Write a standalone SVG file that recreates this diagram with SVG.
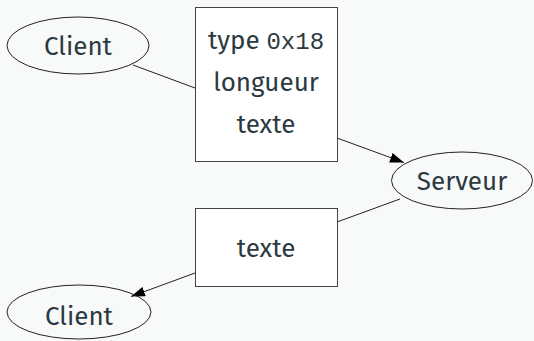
<svg xmlns="http://www.w3.org/2000/svg" width="534" height="341" viewBox="0 0 534 341">
<style>
.n ellipse{fill:none;stroke:#222;stroke-width:1}
.n rect{fill:#fff;stroke:#444;stroke-width:1}
text{font-family:"Fira Sans","Open Sans","Noto Sans",sans-serif;font-size:26px;fill:#2b3a40;text-anchor:middle}
.mono{font-family:"Liberation Mono","DejaVu Sans Mono",monospace;font-size:24px}
.e line{stroke:#222;stroke-width:1}
</style>
<defs>
<marker id="ah" viewBox="0 0 14 10" refX="14" refY="5" markerWidth="14" markerHeight="10" markerUnits="userSpaceOnUse" orient="auto">
<path d="M0,0 L14,5 L0,10 Z" fill="#000"/>
</marker>
</defs>
<rect width="534" height="341" fill="#f8f9f9"/>
<g class="e">
<line x1="133" y1="65" x2="195" y2="88"/>
<line x1="337" y1="138" x2="404" y2="162.5" marker-end="url(#ah)"/>
<line x1="400" y1="199" x2="337" y2="222"/>
<line x1="195" y1="273" x2="131" y2="296.5" marker-end="url(#ah)"/>
</g>
<g id="client1" class="n">
<ellipse cx="78" cy="45.5" rx="71" ry="28.5"/>
<text x="78" y="55">Client</text>
</g>
<g id="msg1" class="n">
<rect x="195.5" y="7.5" width="142" height="154"/>
<text x="266" y="49">type <tspan class="mono">0x18</tspan></text>
<text x="266" y="91">longueur</text>
<text x="266" y="133">texte</text>
</g>
<g id="serveur" class="n">
<ellipse cx="462" cy="180.5" rx="70.5" ry="28.5"/>
<text x="462" y="190">Serveur</text>
</g>
<g id="msg2" class="n">
<rect x="195.5" y="208.5" width="142" height="78"/>
<text x="266" y="257">texte</text>
</g>
<g id="client2" class="n">
<ellipse cx="79" cy="312" rx="72" ry="27"/>
<text x="79" y="325">Client</text>
</g>
</svg>
